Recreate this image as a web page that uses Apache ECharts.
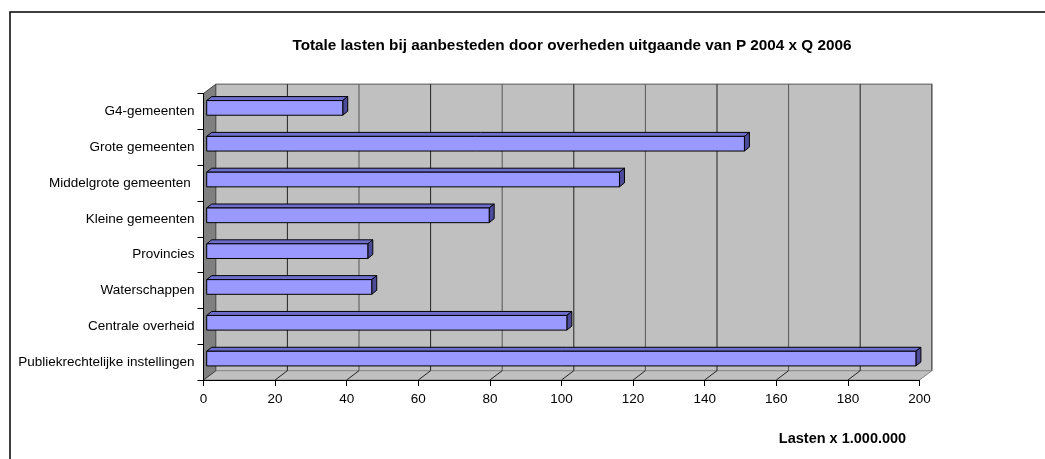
<!DOCTYPE html>
<html>
<head>
<meta charset="utf-8">
<script src="https://cdn.jsdelivr.net/npm/echarts@6/dist/echarts.min.js"></script>
<style>
html,body{margin:0;padding:0;background:#fff;}
#chart{width:1045px;height:459px;}
</style>
</head>
<body>
<div id="chart"></div>
<script>
// ---- data ----
const categories = [
  'G4-gemeenten',
  'Grote gemeenten',
  'Middelgrote gemeenten ',
  'Kleine gemeenten',
  'Provincies',
  'Waterschappen',
  'Centrale overheid',
  'Publiekrechtelijke instellingen'
];
const values = [38, 150.2, 115.3, 78.9, 45, 46.1, 100.6, 198.1];
const xTicks = [0, 20, 40, 60, 80, 100, 120, 140, 160, 180, 200];
const titleText = 'Totale lasten bij aanbesteden door overheden uitgaande van P 2004 x Q 2006';
const xAxisTitle = 'Lasten x 1.000.000';

// ---- styling constants (3D look) ----
const DEPTH_DX = 12.3, DEPTH_DY = -9.3;     // wall depth offset
const BAR_OFF_DX = 3.2, BAR_OFF_DY = -3.5;   // bar front face offset
const BAR_DEPTH_DX = 5, BAR_DEPTH_DY = -4;   // bar depth
const FONT = '"Liberation Sans", Arial, sans-serif';

const chart = echarts.init(document.getElementById('chart'), null, {renderer: 'canvas'});

function renderWalls(params, api) {
  const cs = params.coordSys;
  const x0 = cs.x, y0 = cs.y, x1 = cs.x + cs.width, y1 = cs.y + cs.height;
  const dx = DEPTH_DX, dy = DEPTH_DY;
  const children = [];
  children.push({type: 'rect', shape: {x: x0 + dx, y: y0 + dy, width: cs.width, height: cs.height},
    style: {fill: '#C0C0C0', stroke: null}});
  children.push({type: 'polyline', shape: {points: [[x0 + dx, y0 + dy], [x1 + dx, y0 + dy], [x1 + dx, y1 + dy]]},
    style: {stroke: '#808080', lineWidth: 1.5, fill: null}});
  children.push({type: 'polygon', shape: {points: [[x0, y1], [x1, y1], [x1 + dx, y1 + dy], [x0 + dx, y1 + dy]]},
    style: {fill: '#C0C0C0', stroke: '#808080', lineWidth: 1}});
  children.push({type: 'polygon', shape: {points: [[x0, y0], [x0 + dx, y0 + dy], [x0 + dx, y1 + dy], [x0, y1]]},
    style: {fill: '#808080', stroke: '#404040', lineWidth: 1}});
  xTicks.forEach(function (t, i) {
    const px = api.coord([t, 0])[0];
    if (i > 0) {
      children.push({type: 'line', shape: {x1: px + dx, y1: y0 + dy, x2: px + dx, y2: y1 + dy},
        style: {stroke: i % 2 ? '#222' : '#555', lineWidth: 1}});
    }
    if (i > 0 && i < xTicks.length - 1) {
      children.push({type: 'line', shape: {x1: px, y1: y1, x2: px + dx, y2: y1 + dy},
        style: {stroke: '#222', lineWidth: 1}});
    }
  });
  return {type: 'group', children: children};
}

function renderBar(params, api) {
  const catIdx = api.value(1);
  const v = api.value(0);
  const start = api.coord([0, catIdx]);
  const end = api.coord([v, catIdx]);
  const band = api.size([0, 1])[1];
  const h = band * 0.41;
  const xa = start[0] + BAR_OFF_DX, xb = end[0] + BAR_OFF_DX;
  const yc = start[1] + BAR_OFF_DY;
  const yt = yc - h / 2, yb = yc + h / 2;
  const ddx = BAR_DEPTH_DX, ddy = BAR_DEPTH_DY;
  const lineStyle = {stroke: '#000', lineWidth: 1, lineJoin: 'round'};
  return {
    type: 'group',
    children: [
      {type: 'polygon', shape: {points: [[xa, yt], [xb, yt], [xb + ddx, yt + ddy], [xa + ddx, yt + ddy]]},
        style: Object.assign({fill: '#6E6ECF'}, lineStyle)},
      {type: 'polygon', shape: {points: [[xb, yt], [xb + ddx, yt + ddy], [xb + ddx, yb + ddy], [xb, yb]]},
        style: Object.assign({fill: '#4B4B99'}, lineStyle)},
      {type: 'rect', shape: {x: xa, y: yt, width: xb - xa, height: h},
        style: Object.assign({fill: '#9999FF'}, lineStyle)}
    ]
  };
}

const option = {
  animation: false,
  backgroundColor: '#fff',
  title: [
    {text: titleText, left: 567, top: 33, textAlign: 'center',
      textStyle: {fontFamily: FONT, fontSize: 15.3, fontWeight: 'bold', color: '#000'}},
    {text: xAxisTitle, left: 837.5, top: 426, textAlign: 'center',
      textStyle: {fontFamily: FONT, fontSize: 14.5, fontWeight: 'bold', color: '#000'}}
  ],
  graphic: [
    {type: 'rect', shape: {x: 10, y: 12, width: 1100, height: 500},
      style: {fill: null, stroke: '#000', lineWidth: 1.5}, z: 100, silent: true}
  ],
  grid: {left: 203.5, right: 125.5, top: 93.5, bottom: 79, containLabel: false},
  xAxis: {
    type: 'value', min: 0, max: 200, interval: 20, z: 10,
    axisLine: {show: true, lineStyle: {color: '#000', width: 1}},
    axisTick: {show: true, length: 6, lineStyle: {color: '#000'}},
    splitLine: {show: false},
    axisLabel: {fontFamily: FONT, fontSize: 13.5, color: '#000', margin: 12}
  },
  yAxis: {
    type: 'category', data: categories, inverse: true, z: 10,
    axisLine: {show: true, lineStyle: {color: '#000', width: 1}},
    axisTick: {show: true, length: 6, lineStyle: {color: '#000'}},
    axisLabel: {fontFamily: FONT, fontSize: 13.5, color: '#000', margin: 9}
  },
  series: [
    {type: 'custom', z: 1, silent: true, renderItem: renderWalls, data: [[0, 0]], clip: false},
    {type: 'custom', z: 3, renderItem: renderBar, clip: false,
      encode: {x: 0, y: 1},
      data: values.map(function (v, i) { return [v, i]; })}
  ]
};
chart.setOption(option);
</script>
</body>
</html>
